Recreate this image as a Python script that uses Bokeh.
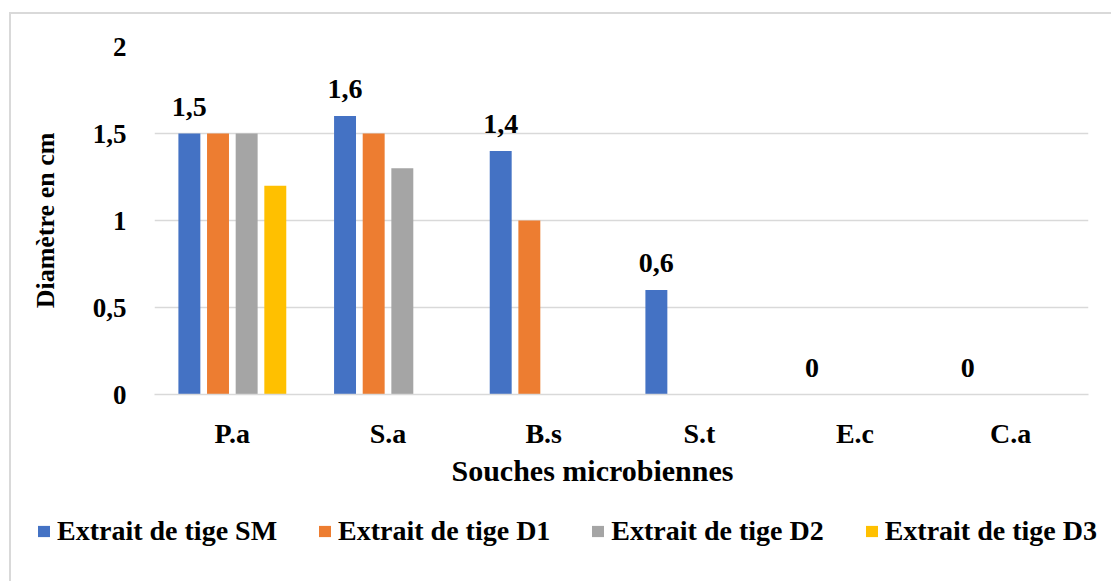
from bokeh.plotting import figure
from bokeh.models import (ColumnDataSource, FactorRange, FixedTicker, Legend, LegendItem,
                          Title, Range1d)
from bokeh.layouts import column
from bokeh.transform import dodge
from bokeh.core.properties import value
from bokeh.embed import file_html
from bokeh.resources import INLINE

# ---- data ----
categories = ["P.a", "S.a", "B.s", "S.t", "E.c", "C.a"]
series_names = ["Extrait de tige SM", "Extrait de tige D1", "Extrait de tige D2", "Extrait de tige D3"]
sm = [1.5, 1.6, 1.4, 0.6, 0.0, 0.0]
d1 = [1.5, 1.5, 1.0, 0.0, 0.0, 0.0]
d2 = [1.5, 1.3, 0.0, 0.0, 0.0, 0.0]
d3 = [1.2, 0.0, 0.0, 0.0, 0.0, 0.0]
y_ticks = [0, 0.5, 1, 1.5, 2]
y_tick_labels = ["0", "0,5", "1", "1,5", "2"]
colors = ["#4472C4", "#ED7D31", "#A5A5A5", "#FFC000"]


def fr(v):
    return ("%g" % v).replace(".", ",")


sm_labels = [fr(v) for v in sm]

source = ColumnDataSource(dict(cat=categories, sm=sm, d1=d1, d2=d2, d3=d3, lbl=sm_labels))

FONT = "Liberation Serif"

p = figure(x_range=FactorRange(*categories, range_padding=0), y_range=Range1d(0, 2),
           frame_width=934, frame_height=348, output_backend="svg", toolbar_location=None,
           min_border_left=143, min_border_right=23, min_border_top=32, min_border_bottom=110)
p.frame_align = False
p.outline_line_color = None
p.background_fill_color = "white"
p.border_fill_color = "white"

offsets = [-0.276, -0.092, 0.092, 0.276]
bw = 0.141
keys = ["sm", "d1", "d2", "d3"]
for key, off, col in zip(keys, offsets, colors):
    p.vbar(x=dodge("cat", off, range=p.x_range), top=key, width=bw, source=source,
           fill_color=col, line_color=None)

p.text(x=dodge("cat", offsets[0], range=p.x_range), y="sm", text="lbl", source=source,
       text_align="center", text_baseline="alphabetic", y_offset=-27,
       text_font=value(FONT), text_font_style="bold", text_font_size="28px", text_color="#000000")

# axes
p.yaxis.ticker = FixedTicker(ticks=y_ticks)
p.yaxis.major_label_overrides = {t: l for t, l in zip(y_ticks, y_tick_labels)}
p.yaxis.axis_line_color = None
p.yaxis.major_tick_line_color = None
p.yaxis.minor_tick_line_color = None
p.yaxis.major_label_standoff = 22
p.yaxis.major_label_text_font = FONT
p.yaxis.major_label_text_font_style = "bold"
p.yaxis.major_label_text_font_size = "27px"
p.yaxis.major_label_text_color = "#000000"
p.yaxis.axis_label = "Diamètre en cm"
p.yaxis.axis_label_text_font = FONT
p.yaxis.axis_label_text_font_style = "bold"
p.yaxis.axis_label_text_font_size = "26px"
p.yaxis.axis_label_text_color = "#000000"
p.yaxis.axis_label_standoff = 30

p.xaxis.axis_line_color = "#D9D9D9"
p.xaxis.axis_line_width = 1.5
p.xaxis.major_tick_line_color = None
p.xaxis.minor_tick_line_color = None
p.xaxis.major_label_standoff = 17
p.xaxis.major_label_text_font = FONT
p.xaxis.major_label_text_font_style = "bold"
p.xaxis.major_label_text_font_size = "28px"
p.xaxis.major_label_text_color = "#000000"

p.xgrid.grid_line_color = None
p.ygrid.grid_line_color = "#D9D9D9"
p.ygrid.grid_line_width = 1.5

xt = Title(text="Souches microbiennes", align="left", offset=297, standoff=1,
           text_font=FONT, text_font_style="bold", text_font_size="30px", text_color="#000000")
p.add_layout(xt, "below")

# ---- legend strip (same series, bars kept outside its view) ----
lg = figure(x_range=FactorRange(*categories, range_padding=0), y_range=Range1d(10, 11),
            width=1100, height=77, output_backend="svg", toolbar_location=None,
            x_axis_location=None, y_axis_location=None,
            min_border_left=0, min_border_right=0, min_border_top=0, min_border_bottom=0)
lg.frame_align = False
lg.outline_line_color = None
lg.xgrid.grid_line_color = None
lg.ygrid.grid_line_color = None
leg_renderers = []
for key, off, col in zip(keys, offsets, colors):
    r = lg.vbar(x=dodge("cat", off, range=lg.x_range), top=key, width=bw, source=source,
                fill_color=col, line_color=None)
    leg_renderers.append(r)

legend = Legend(items=[LegendItem(label=n, renderers=[r]) for n, r in zip(series_names, leg_renderers)],
                orientation="horizontal", location=(25, 34),
                glyph_width=15, glyph_height=14, label_standoff=6, spacing=40,
                padding=0, margin=0, border_line_color=None, background_fill_alpha=0,
                label_text_font=FONT, label_text_font_style="bold", label_text_font_size="28px",
                label_text_color="#000000")
lg.add_layout(legend, "center")

layout = column(p, lg, spacing=0,
                styles={"margin-left": "9px", "margin-top": "12px",
                        "border-left": "2px solid #D9D9D9", "border-top": "2px solid #D9D9D9"})

open("out.html", "w").write(file_html(layout, INLINE))
